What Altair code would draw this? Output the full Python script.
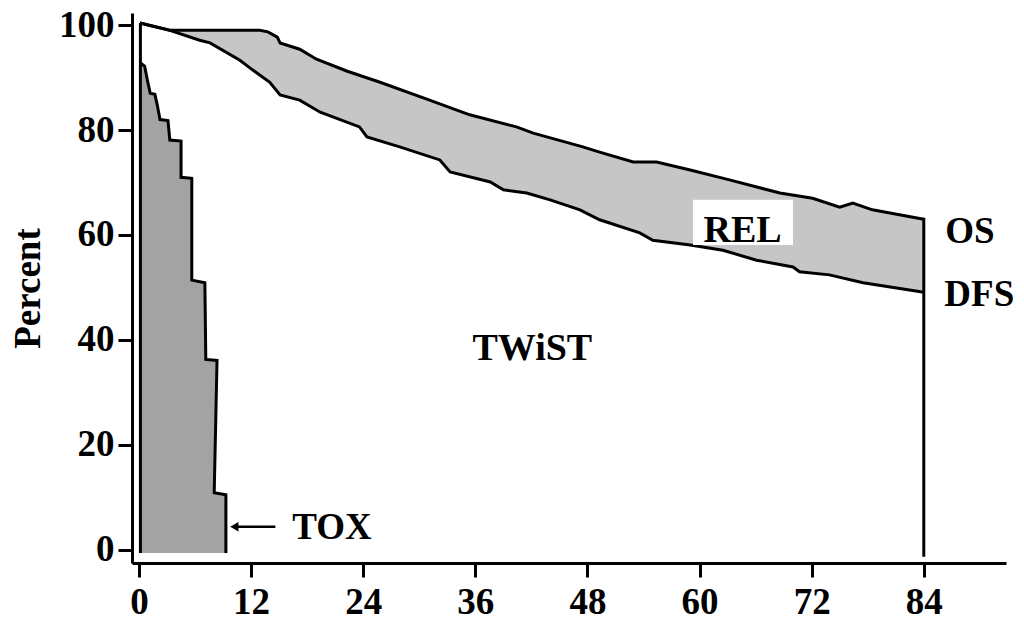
import altair as alt
import pandas as pd

# Overall survival (upper curve)
os_month = [0.1, 3.3, 12.9, 13.8, 14.8, 15.1, 17.2, 19.0, 22.3, 25.8, 31.1, 35.4, 40.4, 42.2,
            47.5, 49.3, 52.9, 55.4, 59.0, 63.2, 68.6, 72.1, 75.0, 76.4, 78.5, 84.0]
os_pct = [100.4, 99.0, 99.0, 98.7, 97.7, 96.6, 95.4, 93.5, 91.2, 89.1, 85.7, 82.9, 80.6, 79.4,
          76.8, 75.8, 73.9, 73.9, 72.4, 70.5, 68.0, 67.0, 65.3, 66.1, 64.8, 63.0]

# Disease-free survival (lower curve)
dfs_month = [0.1, 3.3, 6.5, 7.6, 10.8, 11.9, 14.0, 15.1, 17.2, 19.4, 23.6, 24.4, 27.9, 32.2,
             33.3, 37.6, 39.0, 41.5, 44.0, 47.2, 49.3, 53.6, 55.0, 59.0, 62.5, 66.1, 70.0,
             70.7, 73.9, 77.5, 84.0]
dfs_pct = [100.4, 99.0, 97.1, 96.6, 93.3, 91.8, 89.1, 86.7, 85.7, 83.4, 80.6, 78.7, 76.8, 74.3,
           72.0, 70.1, 68.6, 68.0, 66.7, 64.8, 62.9, 60.4, 59.0, 58.1, 57.1, 55.2, 53.9,
           53.0, 52.4, 50.9, 49.1]

# Toxicity (TOX) boundary
tox_month = [0.15, 0.6, 0.9, 1.2, 1.7, 1.95, 2.25, 3.1, 3.3, 4.5, 4.5, 5.65, 5.65, 7.05,
             7.15, 8.35, 8.05, 9.3, 9.3]
tox_pct = [92.8, 92.2, 89.5, 87.0, 86.8, 84.8, 82.0, 81.8, 78.1, 77.9, 71.0, 70.8, 51.4, 50.9,
           36.3, 36.1, 10.9, 10.5, -0.6]
tox_left = 0.15

# Vertical boundaries (start and end of follow-up)
edge_month = [0.15, 84.0]
edge_low = [-0.6, -1.3]
edge_high = [100.4, 63.3]

# Axis ticks
x_ticks = [0, 12, 24, 36, 48, 60, 72, 84]
y_ticks = [0, 20, 40, 60, 80, 100]

# Annotations
lab_text = ["TWiST", "REL", "OS", "DFS", "TOX"]
lab_month = [42.1, 64.6, 86.3, 86.2, 16.4]
lab_pct = [36.2, 58.7, 58.5, 46.5, 2.1]
lab_align = ["center", "center", "left", "left", "left"]

rel_box_month = [59.3, 70.0]
rel_box_pct = [58.1, 66.7]

arrow_month = [10.2, 14.6]
arrow_pct = 4.4

FONT = "Liberation Serif, Times New Roman, Times, serif"
REL_GRAY = "#c6c6c6"
TOX_GRAY = "#a3a3a3"

xs = alt.Scale(domain=[-0.75, 92.8], nice=False, zero=False)
ys = alt.Scale(domain=[-2.5, 102.3], nice=False, zero=False)

os_df = pd.DataFrame({"month": os_month, "pct": os_pct})
dfs_df = pd.DataFrame({"month": dfs_month, "pct": dfs_pct})
tox_df = pd.DataFrame({"month": tox_month, "pct": tox_pct, "left": tox_left,
                       "i": list(range(len(tox_month)))})
edge_df = pd.DataFrame({"month": edge_month, "low": edge_low, "high": edge_high})
lab_df = pd.DataFrame({"t": lab_text, "month": lab_month, "pct": lab_pct, "al": lab_align})
box_df = pd.DataFrame({"m1": [rel_box_month[0]], "m2": [rel_box_month[1]],
                       "p1": [rel_box_pct[0]], "p2": [rel_box_pct[1]]})
arrow_df = pd.DataFrame({"m1": [arrow_month[0]], "m2": [arrow_month[1]], "p": [arrow_pct]})

x_axis = alt.Axis(values=x_ticks, title=None, grid=False, labelFont=FONT, labelFontWeight="bold",
                  labelFontSize=37, labelColor="black", domainColor="black", domainWidth=3,
                  tickColor="black", tickWidth=3, tickSize=14, labelPadding=7, labelFlush=False)
y_axis = alt.Axis(values=y_ticks, title="Percent", grid=False, labelFont=FONT,
                  labelFontWeight="bold", labelFontSize=37, labelColor="black",
                  domainColor="black", domainWidth=3, tickColor="black", tickWidth=3,
                  tickSize=14, labelPadding=4, labelFlush=False, titleFont=FONT,
                  titleFontWeight="bold", titleFontSize=37, titleColor="black", titlePadding=11)

os_area = alt.Chart(os_df).mark_area(color=REL_GRAY, opacity=1).encode(
    x=alt.X("month:Q", scale=xs, axis=x_axis),
    y=alt.Y("pct:Q", scale=ys, axis=y_axis),
)
dfs_area = alt.Chart(dfs_df).mark_area(color="white", opacity=1).encode(
    x=alt.X("month:Q", scale=xs), y=alt.Y("pct:Q", scale=ys))
tox_area = alt.Chart(tox_df).mark_area(color=TOX_GRAY, opacity=1, orient="horizontal").encode(
    y=alt.Y("pct:Q", scale=ys), x=alt.X("month:Q", scale=xs), x2="left:Q")
os_line = alt.Chart(os_df).mark_line(color="black", strokeWidth=3).encode(
    x=alt.X("month:Q", scale=xs), y=alt.Y("pct:Q", scale=ys))
dfs_line = alt.Chart(dfs_df).mark_line(color="black", strokeWidth=3).encode(
    x=alt.X("month:Q", scale=xs), y=alt.Y("pct:Q", scale=ys))
tox_line = alt.Chart(tox_df).mark_line(color="black", strokeWidth=3).encode(
    x=alt.X("month:Q", scale=xs), y=alt.Y("pct:Q", scale=ys), order="i:Q")
edges = alt.Chart(edge_df).mark_rule(color="black", strokeWidth=3).encode(
    x=alt.X("month:Q", scale=xs), y=alt.Y("low:Q", scale=ys), y2="high:Q")
box = alt.Chart(box_df).mark_rect(color="white").encode(
    x=alt.X("m1:Q", scale=xs), x2="m2:Q", y=alt.Y("p1:Q", scale=ys), y2="p2:Q")
arrow_line = alt.Chart(arrow_df).mark_rule(color="black", strokeWidth=2.5).encode(
    x=alt.X("m1:Q", scale=xs), x2="m2:Q", y=alt.Y("p:Q", scale=ys))
arrow_head = alt.Chart(arrow_df).mark_point(shape="triangle-left", filled=True, color="black",
                                            size=90, opacity=1).encode(
    x=alt.X("m1:Q", scale=xs), y=alt.Y("p:Q", scale=ys))

lab_center = alt.Chart(lab_df).transform_filter(alt.datum.al == "center").mark_text(
    font=FONT, fontWeight="bold", fontSize=38, color="black", baseline="alphabetic",
    align="center").encode(x=alt.X("month:Q", scale=xs), y=alt.Y("pct:Q", scale=ys), text="t:N")
lab_left = alt.Chart(lab_df).transform_filter(alt.datum.al == "left").mark_text(
    font=FONT, fontWeight="bold", fontSize=37, color="black", baseline="alphabetic",
    align="left").encode(x=alt.X("month:Q", scale=xs), y=alt.Y("pct:Q", scale=ys), text="t:N")

chart = alt.layer(
    os_area, dfs_area, tox_area, os_line, dfs_line, tox_line, edges, box,
    arrow_line, arrow_head, lab_center, lab_left
).properties(
    width=874, height=550,
    autosize=alt.AutoSizeParams(type="none"),
    padding={"left": 124, "top": 5, "right": 10, "bottom": 57},
).configure_view(stroke="transparent")

chart.save("out.html", embed_options={"renderer": "svg", "actions": False})
